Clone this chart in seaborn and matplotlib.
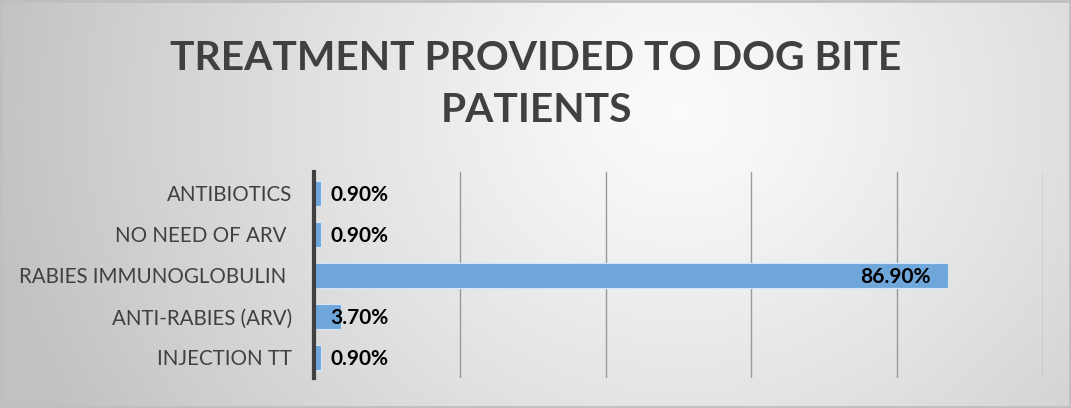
import numpy as np
import pandas as pd
import matplotlib
matplotlib.use("Agg")
import matplotlib.pyplot as plt
import seaborn as sns

categories = ["ANTIBIOTICS", "NO NEED OF ARV ", "RABIES IMMUNOGLOBULIN ", "ANTI-RABIES (ARV)", "INJECTION TT"]
values = [0.90, 0.90, 86.90, 3.70, 0.90]
title = "TREATMENT PROVIDED TO DOG BITE\nPATIENTS"

df = pd.DataFrame({"treatment": categories, "pct": values})

sns.set_theme(style="white")
plt.rcParams["font.family"] = ["Lato", "DejaVu Sans"]

W, H = 1071, 408
fig = plt.figure(figsize=(W / 100, H / 100), dpi=100)

# radial gradient background
bg = fig.add_axes([0, 0, 1, 1], zorder=-10)
yy, xx = np.mgrid[0:H, 0:W]
r = np.sqrt(((xx - 680) / 1.0) ** 2 + ((yy - 110) / 0.9) ** 2)
t = np.clip(r / 700, 0, 1)
g = 0.985 - (0.985 - 0.76) * t ** 1.2
img = np.dstack([g, g, g])
bg.imshow(img, aspect="auto", extent=[0, 1, 0, 1], origin="upper")
bg.set_axis_off()
# border
bg.add_patch(plt.Rectangle((0.0008, 0.002), 0.998, 0.995, fill=False,
                           edgecolor="#bfbfbf", lw=2, transform=bg.transAxes))

ax = fig.add_axes([314 / W, 1 - 378 / H, (1043 - 314) / W, (378 - 172) / H])
ax.patch.set_alpha(0)
sns.barplot(data=df, y="treatment", x="pct", orient="h", ax=ax,
            color="#6FA7DB", saturation=1, width=0.6,
            edgecolor="#d6e6f5", linewidth=0.8, zorder=3)
ax.set_xlim(0, 100)
ax.set_ylim(4.5, -0.52)
ax.set_xticks([0, 20, 40, 60, 80, 100])
ax.xaxis.grid(True, color="#9a9a9a", lw=1)
ax.yaxis.grid(False)
ax.set_axisbelow(True)
ax.tick_params(axis="x", labelbottom=False, length=0)
ax.tick_params(axis="y", length=0, pad=16, labelsize=14.8, labelcolor="#404040")
for s in ["top", "right", "bottom"]:
    ax.spines[s].set_visible(False)
ax.spines["left"].set_color("#404040")
ax.spines["left"].set_linewidth(3)
ax.spines["left"].set_zorder(5)
ax.set_xlabel("")
ax.set_ylabel("")

for i, v in enumerate(values):
    lab = f"{v:.2f}%"
    if v > 10:
        ax.text(v - 2.3, i + 0.03, lab, ha="right", va="center", fontsize=15,
                fontweight="bold", color="black", zorder=6)
    else:
        ax.text(2.2, i + 0.03, lab, ha="left", va="center", fontsize=15,
                fontweight="bold", color="black", zorder=6)

fig.text(536 / W, 1 - 84 / H, title, ha="center", va="center", fontsize=29.3,
         fontweight="bold", color="#404040", linespacing=1.5)

fig.savefig("out.png", dpi=100)
